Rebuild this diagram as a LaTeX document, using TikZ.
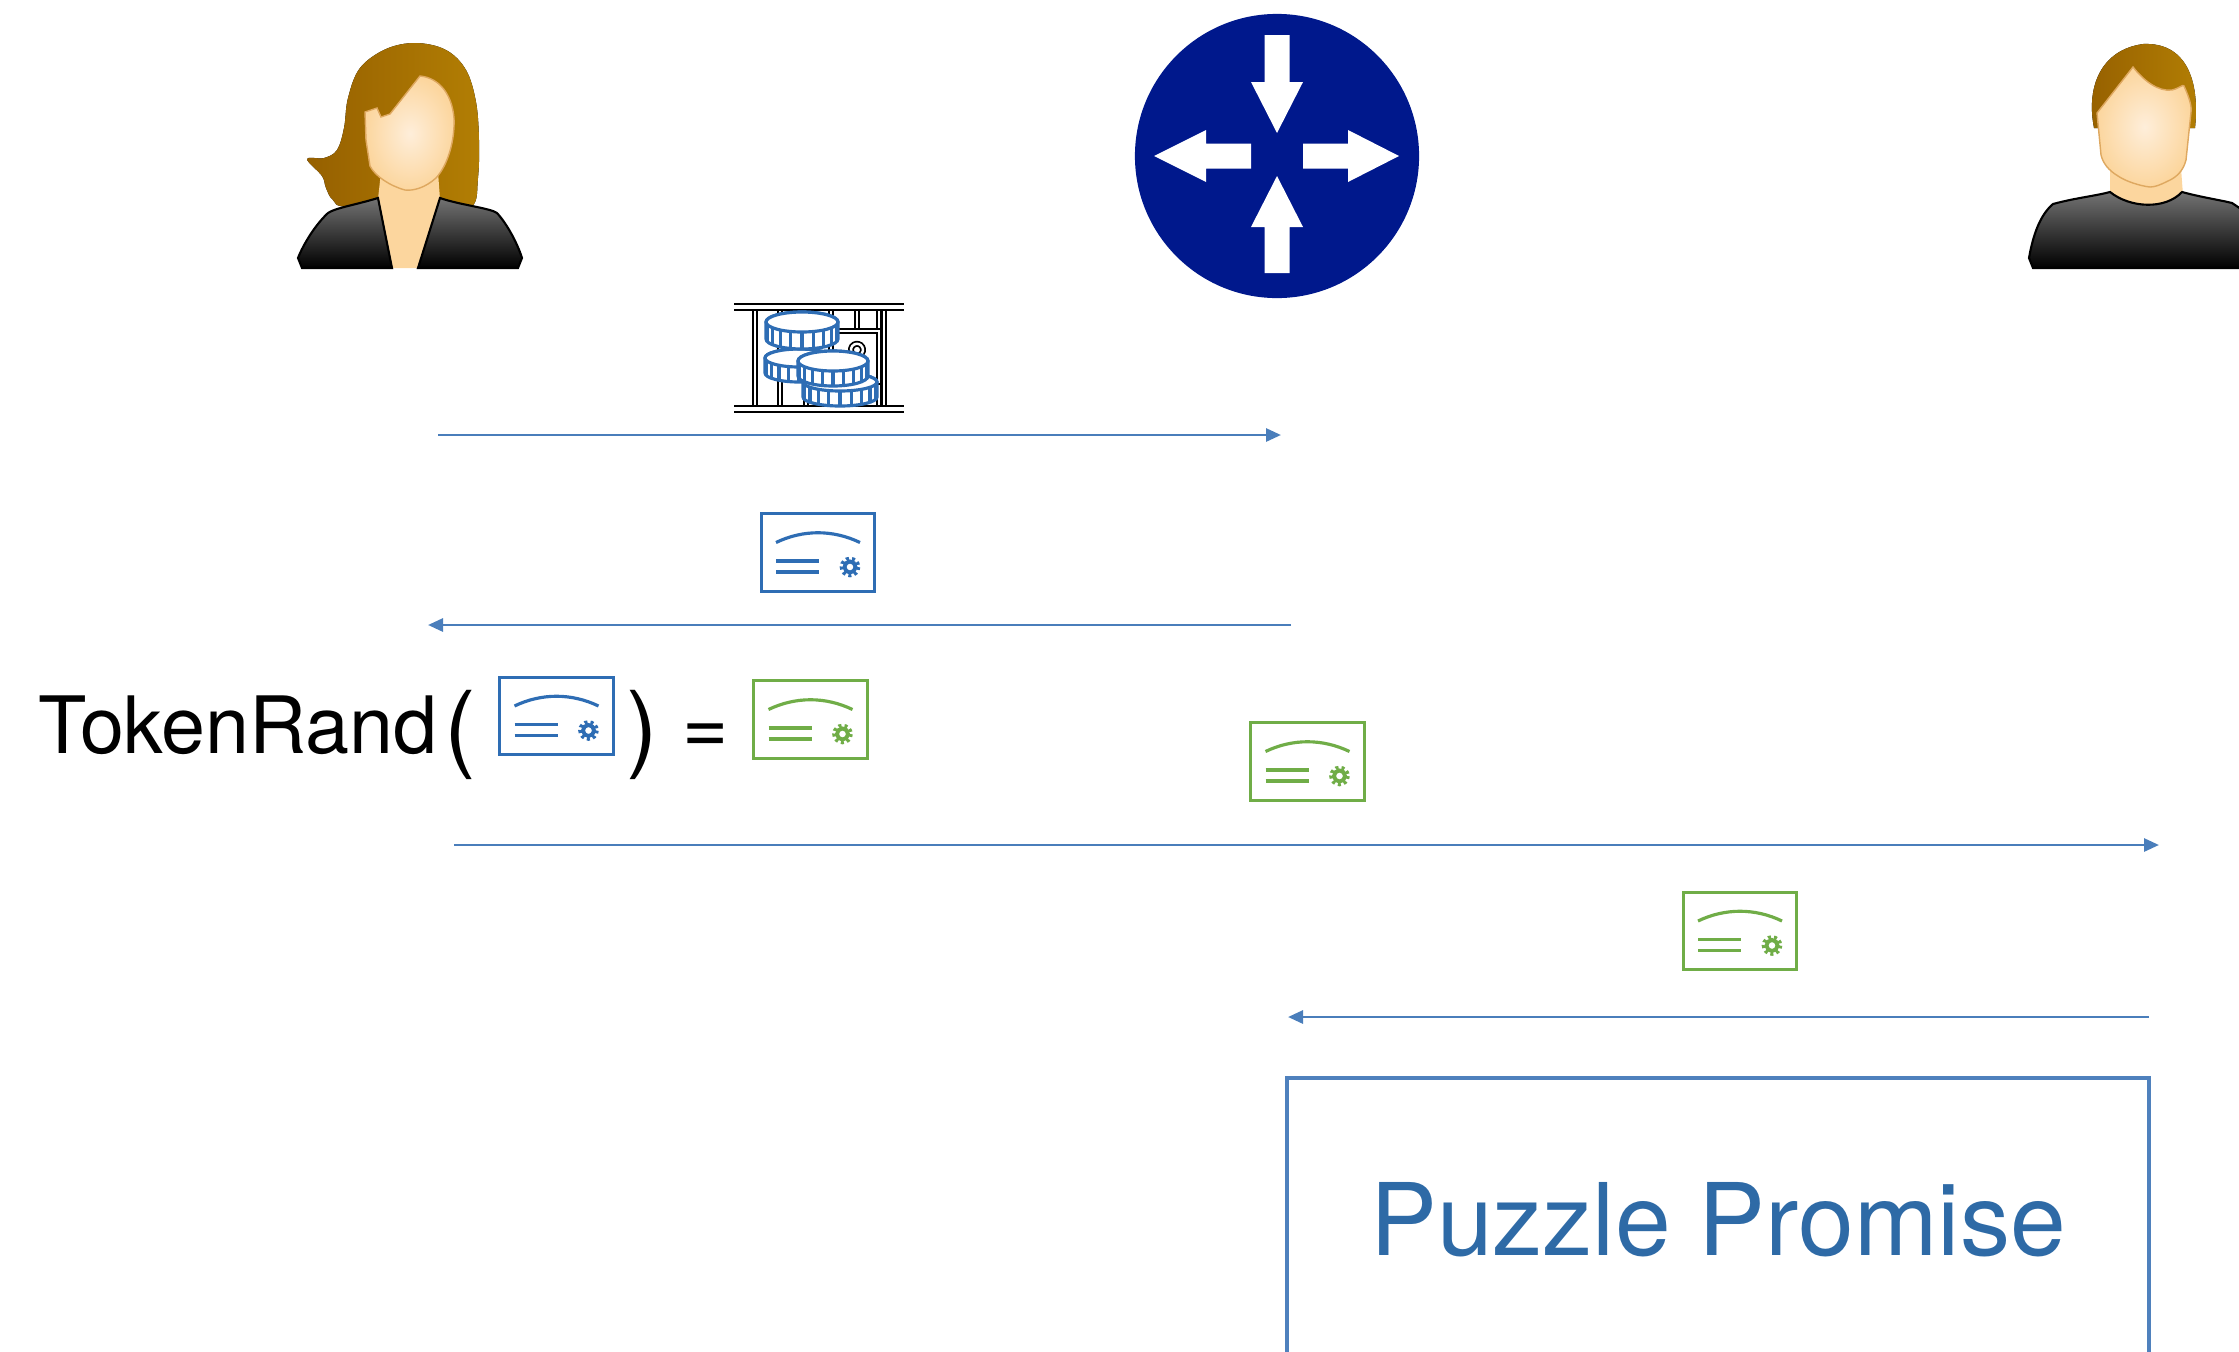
\documentclass[tikz,border=0pt]{standalone}
\usepackage{fontspec}
\setmainfont{TeX Gyre Heros}
\usetikzlibrary{arrows.meta}

\definecolor{msgblue}{RGB}{74,126,187}
\definecolor{boxblue}{RGB}{79,129,189}
\definecolor{textblue}{RGB}{46,106,166}
\definecolor{certblue}{RGB}{46,109,180}
\definecolor{certgreen}{RGB}{112,173,71}
\definecolor{routerblue}{RGB}{0,24,140}
\definecolor{hairbrown}{RGB}{178,126,4}
\definecolor{hairdark}{RGB}{150,96,0}
\definecolor{skin}{RGB}{252,214,158}
\definecolor{skinlight}{RGB}{254,238,218}
\definecolor{skinline}{RGB}{222,168,96}

\tikzset{
  msg/.style={draw=msgblue, line width=0.8pt, -{Triangle[length=0.15cm,width=0.13cm]}},
  jailbar/.style={draw=black, double=white, double distance=0.7pt, line width=0.5pt},
  jailrail/.style={jailbar, double distance=1.1pt},
  coin/.style={draw=certblue, fill=white, line width=0.9pt},
  shirt/.style={draw=black, line width=0.6pt, top color=black!55, bottom color=black},
  pics/cert/.style={code={
    \node[draw=#1, fill=white, line width=0.85pt, minimum width=1.13cm,
          minimum height=0.77cm, inner sep=0pt] (-box) {};
    \draw[#1, line width=0.9pt] (-42,-10) .. controls (-15,-23) and (15,-23) .. (42,-10);
    \draw[#1, line width=0.9pt] (-42,8.5) -- (1,8.5) (-42,19.5) -- (1,19.5);
    \draw[#1, line width=1.1pt] (32,14.5) circle (5.5);
    \draw[#1, line width=1.3pt, dash pattern=on 0.8pt off 0.8pt] (32,14.5) circle (8);
  }},
}

% one coin: centre x, centre y, x radius, y radius, thickness
\newcommand{\drawcoin}[5]{%
  \filldraw[coin] ({#1-#3},#2) -- ({#1-#3},{#2+#5})
    arc[start angle=180, end angle=0, x radius=#3, y radius=#4]
    -- ({#1+#3},#2) arc[start angle=0, end angle=-180, x radius=#3, y radius=#4] -- cycle;
  \draw[coin] (#1,#2) ellipse[x radius=#3, y radius=#4];
  \foreach \a in {162,144,...,18}
    \draw[coin] ({#1+#3*cos(\a)},{#2+#4*sin(\a)}) -- ++(0,#5);
}

\begin{document}
\begin{tikzpicture}[x=0.01cm, y=-0.01cm]
  \useasboundingbox (0,0) rectangle (2239,1351);

  % Alice
  \fill[left color=hairdark, right color=hairbrown] plot[smooth cycle, tension=0.6] coordinates
    {(350,207) (333,200) (326,188) (322,176) (307,159) (324,158) (337,150) (344,128)
     (348,98) (360,68) (386,49) (416,43) (446,50) (466,70) (476,102) (479,140)
     (478,178) (472,206) (440,204)};
  \fill[skin] (381,172) -- (438,172) -- (440,199) -- (418,268) -- (392,268) -- (378,199) -- cycle;
  \shade[inner color=skinlight, outer color=skin, draw=skinline, line width=0.4pt]
    (420,76) .. controls (440,78) and (452,95) .. (454,118)
    .. controls (455,140) and (448,165) .. (436,178)
    .. controls (425,188) and (413,191) .. (405,190)
    .. controls (390,186) and (375,176) .. (370,166)
    -- (366,140) -- (365,112) -- (377,108) -- (381,117) -- (390,114) -- cycle;
  \shade[shirt] (378,198) .. controls (355,205) and (335,208) .. (328,213)
    .. controls (315,225) and (303,245) .. (298,258) -- (302,268) -- (392,268) -- cycle;
  \shade[shirt] (440,198) .. controls (460,205) and (490,208) .. (497,213)
    .. controls (508,225) and (518,245) .. (522,258) -- (518,268) -- (418,268) -- cycle;
  \coordinate (alice) at (410,156);

  % router
  \node[circle, fill=routerblue, minimum size=2.84cm, inner sep=0pt] (router) at (1277,156) {};
  \begin{scope}[shift={(router.center)}, white]
    \fill (-12.5,-121) -- (12.5,-121) -- (12.5,-74) -- (26,-74) -- (0,-23) -- (-26,-74) -- (-12.5,-74) -- cycle;
    \fill (0,20) -- (26,71) -- (12.5,71) -- (12.5,117) -- (-12.5,117) -- (-12.5,71) -- (-26,71) -- cycle;
    \fill (-123,0) -- (-71,-26) -- (-71,-12.5) -- (-26,-12.5) -- (-26,12.5) -- (-71,12.5) -- (-71,26) -- cycle;
    \fill (122,0) -- (71,-26) -- (71,-12.5) -- (26,-12.5) -- (26,12.5) -- (71,12.5) -- (71,26) -- cycle;
  \end{scope}

  % Bob
  \fill[left color=hairdark, right color=hairbrown] (2094,128) .. controls (2086,88) and (2100,50) .. (2143,44)
    .. controls (2186,42) and (2200,80) .. (2195,128) -- cycle;
  \fill[skin] (2110,168) -- (2181,168) -- (2183,195) .. controls (2165,212) and (2128,212) .. (2110,195) -- cycle;
  \shade[inner color=skinlight, outer color=skin, draw=skinline, line width=0.4pt]
    (2097,113) -- (2133,67) .. controls (2143,80) and (2158,92) .. (2172,90)
    .. controls (2180,88) and (2183,84) .. (2184,86)
    .. controls (2188,95) and (2192,105) .. (2191,112) -- (2186,160)
    .. controls (2183,172) and (2175,178) .. (2168,181)
    .. controls (2160,185) and (2155,187) .. (2150,187)
    .. controls (2140,186) and (2125,181) .. (2118,176)
    .. controls (2108,170) and (2103,163) .. (2101,155) -- cycle;
  \shade[shirt] (2110,192) .. controls (2130,208) and (2165,210) .. (2182,192)
    .. controls (2200,197) and (2220,200) .. (2232,203) -- (2250,215) -- (2250,268)
    -- (2033,268) -- (2029,258) .. controls (2033,235) and (2040,215) .. (2053,204)
    .. controls (2075,198) and (2095,196) .. cycle;
  \coordinate (bob) at (2140,156);

  % locked coins
  \foreach \x in {755,780,806,831,879,884}
    \draw[jailbar] (\x,311) -- (\x,406);
  \draw[jailbar] (857,311) -- (857,331) (857,382) -- (857,406);
  \draw[jailbar] (831,331) rectangle (879,382);
  \draw[jailbar] (854,355) -- (852,369) -- (862,369) -- (860,355)
    arc[start angle=60, end angle=-240, radius=6];
  \draw[jailrail] (734,307) -- (904,307);
  \draw[jailrail] (734,409) -- (904,409);
  \drawcoin{799}{358}{34}{9}{15}
  \drawcoin{840}{382}{37}{9}{15}
  \drawcoin{833}{361}{35}{10}{15}
  \drawcoin{802}{322}{36}{10}{17}

  % messages
  \coordinate (m1s) at (438,435);  \coordinate (m1e) at (1281,435);
  \coordinate (m2s) at (1291,625); \coordinate (m2e) at (428,625);
  \coordinate (m3s) at (454,845);  \coordinate (m3e) at (2159,845);
  \coordinate (m4s) at (2149,1017); \coordinate (m4e) at (1288,1017);
  \draw[msg] (m1s) -- (m1e);
  \draw[msg] (m2s) -- (m2e);
  \draw[msg] (m3s) -- (m3e);
  \draw[msg] (m4s) -- (m4e);

  \pic (tokA) at (818,552.5) {cert=certblue};
  \pic (tokB) at (1307.5,761.5) {cert=certgreen};
  \pic (tokC) at (1740,931) {cert=certgreen};

  % TokenRand( . ) = .
  \node[anchor=base west, inner sep=0pt, font=\fontsize{22.5}{27}\selectfont] (tokenrand) at (38,753) {TokenRand};
  \node[anchor=base west, inner sep=0pt, font=\fontsize{27}{30}\selectfont] (lparen) at (444,759) {(};
  \pic (tokIn) at (556.5,716) {cert=certblue};
  \node[anchor=base west, inner sep=0pt, font=\fontsize{27}{30}\selectfont] (rparen) at (626,759) {)};
  \node[anchor=base west, inner sep=0pt, font=\fontsize{22.5}{27}\selectfont] (eq) at (682,753) {=};
  \pic (tokOut) at (810.5,719.5) {cert=certgreen};

  \node[draw=boxblue, line width=1.1pt, minimum width=8.62cm, minimum height=2.84cm,
        text=textblue, font=\fontsize{28.5}{34}\selectfont] (promise) at (1718,1220) {Puzzle Promise};

\end{tikzpicture}
\end{document}
